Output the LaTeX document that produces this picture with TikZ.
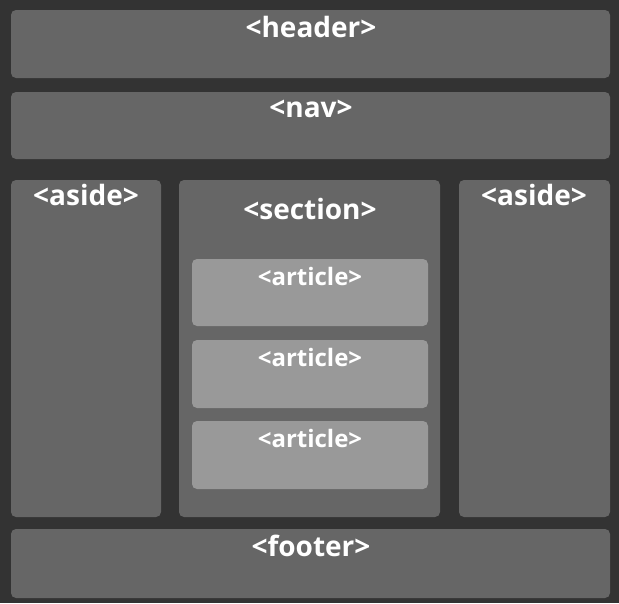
\documentclass[tikz,border=0pt]{standalone}
\usepackage{fontspec}
\setmainfont{Open Sans}
\definecolor{pagebg}{HTML}{333333}
\definecolor{boxfill}{HTML}{666666}
\definecolor{artfill}{HTML}{999999}
\begin{document}
\begin{tikzpicture}[x=1pt,y=-1pt,
  region/.style={fill=boxfill,rounded corners=5pt},
  articlebox/.style={fill=artfill,rounded corners=5pt},
  tag/.style={text=white,font=\bfseries\fontsize{28}{32}\selectfont,inner sep=0pt},
  smalltag/.style={text=white,font=\bfseries\fontsize{24}{28}\selectfont,inner sep=0pt}]
  \fill[pagebg] (0,0) rectangle (619,603);
  \useasboundingbox (0,0) rectangle (619,603);
  % page regions
  \fill[region] (11,10) rectangle (610,78);
  \fill[region] (11,92) rectangle (610,159);
  \fill[region] (11,180) rectangle (161,517);
  \fill[region] (179,180) rectangle (440,517);
  \fill[region] (459,180) rectangle (610,517);
  \fill[region] (11,529) rectangle (610,598);
  % articles inside the section
  \fill[articlebox] (192,259) rectangle (428,326);
  \fill[articlebox] (192,340) rectangle (428,408);
  \fill[articlebox] (192,421) rectangle (428,489);
  % labels
  \node[tag] (header) at (311,27) {<header>};
  \node[tag] (nav) at (311,109) {<nav>};
  \node[tag] (asideL) at (86,195) {<aside>};
  \node[tag] (section) at (310,209) {<section>};
  \node[tag] (asideR) at (534,195) {<aside>};
  \node[smalltag] (art1) at (310,276) {<article>};
  \node[smalltag] (art2) at (310,357) {<article>};
  \node[smalltag] (art3) at (310,438) {<article>};
  \node[tag] (footer) at (311,546) {<footer>};
\end{tikzpicture}
\end{document}
